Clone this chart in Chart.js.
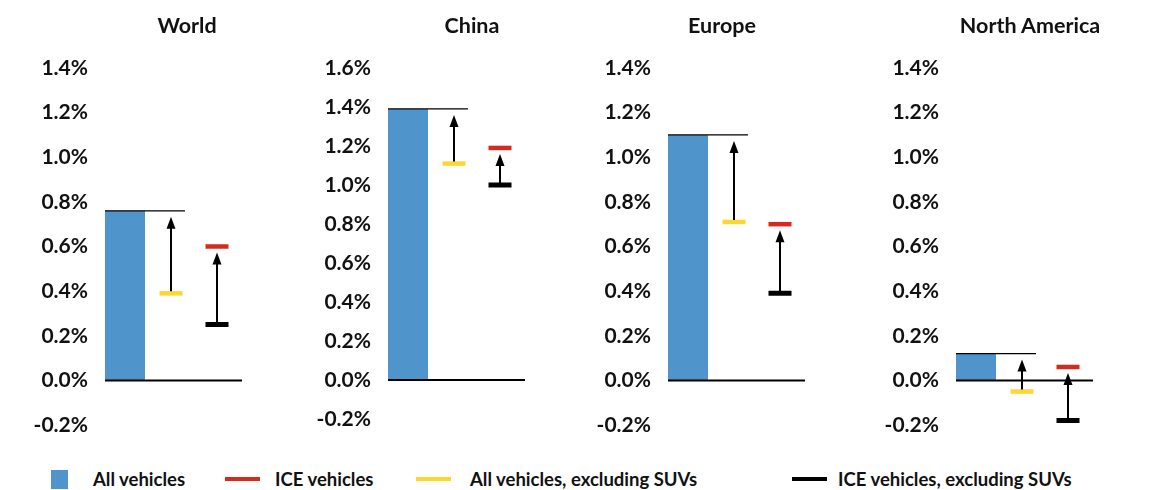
<!DOCTYPE html>
<html>
<head>
<meta charset="utf-8">
<script src="https://cdn.jsdelivr.net/npm/chart.js@4"></script>
<style>
    html, body { margin: 0; padding: 0; background: #fff; overflow: hidden; }
    #wrap { position: relative; width: 1173px; height: 490px; overflow: hidden; }
    .panel { position: absolute; top: 0; }
    .ttl { position: absolute; top: 13px; width: 300px; text-align: center; line-height: 24px;
        font-family: Lato, "Noto Sans", sans-serif; font-weight: bold; font-size: 21.5px; color: #111; }
    #legend { position: absolute; left: 0; top: 467px; width: 1173px; height: 24px;
        font-family: Lato, "Noto Sans", sans-serif; font-weight: bold; font-size: 18.5px; color: #111; }
    .item { position: absolute; top: 0; display: flex; align-items: center; height: 24px; white-space: nowrap; }
    .sw { display: inline-block; }
</style>
</head>
<body>
<div id="wrap">
    <canvas class="panel" id="c0"></canvas>
    <canvas class="panel" id="c1"></canvas>
    <canvas class="panel" id="c2"></canvas>
    <canvas class="panel" id="c3"></canvas>
    <div id="titles"></div>
    <div id="legend"></div>
</div>
<script>
// data (percent)
const regions = ["World", "China", "Europe", "North America"];
const allVehicles = [0.76, 1.39, 1.10, 0.12];
const iceVehicles = [0.60, 1.19, 0.70, 0.06];
const allExclSuv = [0.39, 1.11, 0.71, -0.05];
const iceExclSuv = [0.25, 1.00, 0.39, -0.18];
const axisMax = [1.4, 1.6, 1.4, 1.4];
const axisMin = -0.2;
const slots = ["All vehicles", "All vehicles, excluding SUVs", "ICE vehicles"];

const seriesNames = ["All vehicles", "ICE vehicles", "All vehicles, excluding SUVs", "ICE vehicles, excluding SUVs"];
const colors = {
    blue: "#4F95CB",
    red: "#D42A1F",
    yellow: "#FFD530",
    black: "#000000"
};

// panel placement: canvas left, canvas width, bottom padding, title centre
const panels = [
    { left: 2, width: 250, padBottom: 21, titleX: 187 },
    { left: 285, width: 250, padBottom: 27, titleX: 472 },
    { left: 565, width: 250, padBottom: 21, titleX: 722 },
    { left: 853, width: 250, padBottom: 21, titleX: 1030 }
];
const CANVAS_H = 446;
const AREA_W = 138;

const FONT = "Lato, 'Noto Sans', sans-serif";

// draws the baseline, the level line and the arrows
const arrowPlugin = {
    id: "arrows",
    afterDatasetsDraw(chart, args, opts) {
        const i = opts.index;
        const xs = chart.scales.x, ys = chart.scales.y;
        const ctx = chart.ctx;
        const bar = chart.getDatasetMeta(0).data[0];
        const barLeft = bar.x - bar.width / 2;
        const x1 = xs.getPixelForValue(1);
        const x2 = xs.getPixelForValue(2);

        ctx.save();
        ctx.strokeStyle = "#000";
        // zero line
        ctx.lineWidth = 2;
        ctx.beginPath();
        ctx.moveTo(barLeft, ys.getPixelForValue(0));
        ctx.lineTo(chart.chartArea.right + 2, ys.getPixelForValue(0));
        ctx.stroke();
        // level of all vehicles
        ctx.lineWidth = 1.3;
        ctx.beginPath();
        ctx.moveTo(barLeft, ys.getPixelForValue(allVehicles[i]));
        ctx.lineTo(x1 + 14, ys.getPixelForValue(allVehicles[i]));
        ctx.stroke();

        drawArrow(ctx, x1, ys.getPixelForValue(allExclSuv[i]) - 2, ys.getPixelForValue(allVehicles[i]) + 6);
        drawArrow(ctx, x2, ys.getPixelForValue(iceExclSuv[i]) - 2, ys.getPixelForValue(iceVehicles[i]) + 6);
        ctx.restore();
    }
};

function drawArrow(ctx, x, yFrom, yTo) {
    let head = 12, half = 4.5;
    ctx.fillStyle = "#000";
    ctx.strokeStyle = "#000";
    ctx.lineWidth = 2;
    ctx.beginPath();
    ctx.moveTo(x, yFrom);
    ctx.lineTo(x, yTo + head - 1);
    ctx.stroke();
    ctx.beginPath();
    ctx.moveTo(x, yTo);
    ctx.lineTo(x - half, yTo + head);
    ctx.lineTo(x + half, yTo + head);
    ctx.closePath();
    ctx.fill();
}

function markerSet(label, values, i, slot, color, thickness) {
    let data = [null, null, null];
    data[slot] = values[i];
    return {
        type: "line",
        label: label,
        data: data,
        showLine: false,
        pointStyle: "line",
        pointRadius: 11.5,
        pointHoverRadius: 11.5,
        borderColor: color,
        backgroundColor: color,
        pointBorderWidth: thickness,
        borderWidth: thickness
    };
}

function makeChart(i) {
    let p = panels[i];
    let canvas = document.getElementById("c" + i);
    canvas.width = p.width;
    canvas.height = CANVAS_H;
    canvas.style.left = p.left + "px";
    canvas.style.width = p.width + "px";
    canvas.style.height = CANVAS_H + "px";

    let barData = [allVehicles[i], null, null];

    new Chart(canvas, {
        type: "bar",
        data: {
            labels: slots,
            datasets: [
                {
                    label: seriesNames[0],
                    data: barData,
                    backgroundColor: colors.blue,
                    barPercentage: 0.87,
                    categoryPercentage: 1.0,
                    borderWidth: 0
                },
                markerSet(seriesNames[2], allExclSuv, i, 1, colors.yellow, 4.5),
                markerSet(seriesNames[1], iceVehicles, i, 2, colors.red, 4.5),
                markerSet(seriesNames[3], iceExclSuv, i, 2, colors.black, 5)
            ]
        },
        options: {
            responsive: false,
            animation: false,
            layout: {
                autoPadding: false,
                padding: { left: 0, right: p.width - 100 - AREA_W, top: 68, bottom: p.padBottom }
            },
            plugins: {
                legend: { display: false },
                tooltip: { enabled: false },
                title: { display: false },
                arrows: { index: i }
            },
            scales: {
                x: {
                    display: false,
                    offset: true,
                    grid: { display: false }
                },
                y: {
                    min: axisMin,
                    max: axisMax[i],
                    afterFit: function (scale) { scale.width = 100; },
                    border: { display: false },
                    grid: { display: false },
                    ticks: {
                        stepSize: 0.2,
                        padding: 6,
                        color: "#111",
                        font: { family: FONT, size: 21, weight: "bold" },
                        callback: function (v) {
                            let r = Math.round(v * 10) / 10;
                            if (r === 0) r = 0;
                            return r.toFixed(1) + "%";
                        }
                    }
                }
            }
        },
        plugins: [arrowPlugin]
    });

    // region title
    let t = document.createElement("div");
    t.classList.add("ttl");
    t.style.left = (p.titleX - 150) + "px";
    t.textContent = regions[i];
    document.getElementById("titles").appendChild(t);
}

for (let i = 0; i < regions.length; i++) {
    makeChart(i);
}

// legend
const legendItems = [
    { name: seriesNames[0], color: colors.blue, left: 51, w: 17, h: 19, gap: 25 },
    { name: seriesNames[1], color: colors.red, left: 225, w: 35, h: 4, gap: 15 },
    { name: seriesNames[2], color: colors.yellow, left: 416, w: 35, h: 4, gap: 19 },
    { name: seriesNames[3], color: colors.black, left: 792, w: 35, h: 4, gap: 11 }
];
let legend = document.getElementById("legend");
legendItems.forEach(function (it) {
    let item = document.createElement("div");
    item.classList.add("item");
    item.style.left = it.left + "px";
    let sw = document.createElement("span");
    sw.classList.add("sw");
    sw.setAttribute("style", "width:" + it.w + "px;height:" + it.h + "px;background:" + it.color + ";margin-right:" + it.gap + "px");
    let txt = document.createElement("span");
    txt.textContent = it.name;
    item.appendChild(sw);
    item.appendChild(txt);
    legend.appendChild(item);
});
</script>
</body>
</html>
